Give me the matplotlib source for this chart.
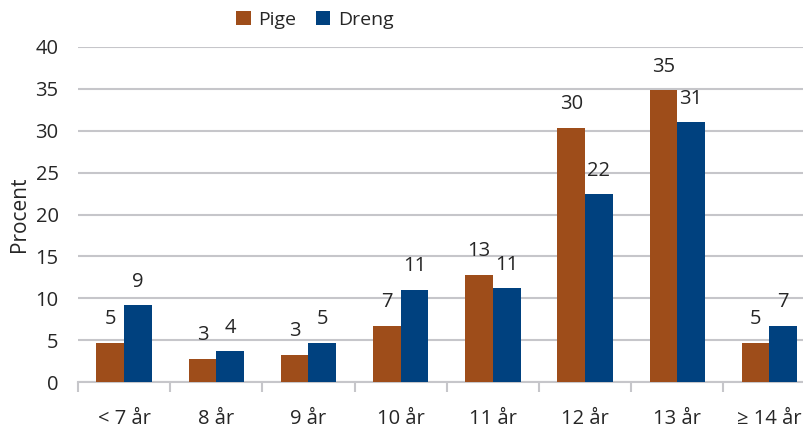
import matplotlib.pyplot as plt
import numpy as np

plt.rcParams['font.family'] = ['Open Sans', 'DejaVu Sans']

ages = ['< 7 år', '8 år', '9 år', '10 år', '11 år', '12 år', '13 år', '≥ 14 år']
pige = [4.7, 2.8, 3.3, 6.7, 12.8, 30.3, 34.8, 4.7]
dreng = [9.2, 3.7, 4.7, 11.0, 11.2, 22.4, 31.0, 6.7]

c_pige = '#9E4D1A'
c_dreng = '#00417F'
txt = '#262626'

fig = plt.figure(figsize=(8.04, 4.29), dpi=100)
ax = fig.add_axes([78 / 804, (429 - 382.3) / 429, 737.6 / 804, 335.6 / 429])

x = np.arange(len(ages))
w = 0.3
b1 = ax.bar(x - w / 2, pige, w, color=c_pige, label='Pige', zorder=3)
b2 = ax.bar(x + w / 2, dreng, w, color=c_dreng, label='Dreng', zorder=3)

for bars, vals in ((b1, pige), (b2, dreng)):
    for r, v in zip(bars, vals):
        ax.annotate(f'{v:.0f}', (r.get_x() + r.get_width() / 2, v),
                    xytext=(0, 17), textcoords='offset points',
                    ha='center', va='center', fontsize=14.5, color=txt,
                    zorder=4)

ax.set_xlim(-0.5, len(ages) - 0.5)
ax.set_ylim(0, 40)
ax.set_yticks(range(0, 41, 5))
ax.yaxis.grid(True, color='#C6C6CA', linewidth=1.5, zorder=0)
ax.set_axisbelow(True)

for s in ('top', 'right', 'left'):
    ax.spines[s].set_visible(False)
ax.spines['bottom'].set_color('#C6C6CA')
ax.spines['bottom'].set_linewidth(1.5)

# category labels sit between the boundary tick marks
ax.set_xticks(np.arange(-0.5, len(ages), 1.0))
ax.set_xticklabels([])
ax.set_xticks(x, minor=True)
ax.set_xticklabels(ages, minor=True, fontsize=14.5, color=txt)
ax.tick_params(axis='x', which='major', length=7, width=1.5, color='#C6C6CA')
ax.tick_params(axis='x', which='minor', length=0, pad=19)
ax.tick_params(axis='y', length=0, pad=14, labelsize=14.5, labelcolor=txt)

ax.set_ylabel('Procent', fontsize=15, color=txt, labelpad=4)

fig.legend(handles=[b1, b2], labels=['Pige', 'Dreng'], loc='center',
           bbox_to_anchor=(315 / 804, 1 - 20 / 429), ncol=2, frameon=False,
           fontsize=14, handlelength=0.75, handleheight=0.75,
           handletextpad=0.4, columnspacing=1.0, labelcolor=txt)

fig.savefig('out.png', dpi=100)
